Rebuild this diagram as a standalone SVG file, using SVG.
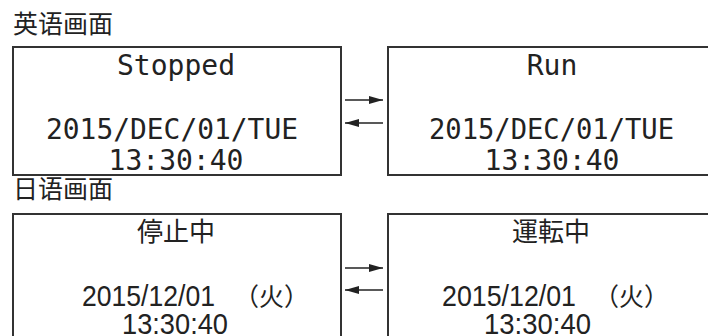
<svg xmlns="http://www.w3.org/2000/svg" width="708" height="336" viewBox="0 0 708 336">
<style>
.box{fill:#fff;stroke:#333;stroke-width:2}
.mono{font-family:"DejaVu Sans Mono","Liberation Mono",monospace;font-size:28px;fill:#222}
.cjk{font-family:"Noto Sans CJK JP","Noto Sans CJK SC",sans-serif;fill:#222}
.title{font-family:"Noto Sans CJK SC","Noto Sans CJK JP",sans-serif;font-size:25px;fill:#222}
.num{font-family:"Liberation Sans",Arial,sans-serif;font-size:30px;fill:#222}
.arr{stroke:#222;stroke-width:1.5;fill:none}
</style>
<defs>
<marker id="ah" markerUnits="userSpaceOnUse" markerWidth="14" markerHeight="8" refX="14" refY="4" orient="auto">
<path d="M0,0 L14,4 L0,8 Z" fill="#222"/>
</marker>
</defs>
<text class="title" x="13" y="33">英语画面</text>
<text class="title" x="13" y="198">日语画面</text>
<g id="en-stopped">
<rect class="box" x="13" y="47" width="328" height="128"/>
<text class="mono" x="176" y="75" text-anchor="middle">Stopped</text>
<text class="mono" x="46" y="139" textLength="252" lengthAdjust="spacingAndGlyphs">2015/DEC/01/TUE</text>
<text class="mono" x="176" y="170" text-anchor="middle">13:30:40</text>
</g>
<g id="en-run">
<rect class="box" x="388" y="47" width="328" height="128"/>
<text class="mono" x="552" y="75" text-anchor="middle">Run</text>
<text class="mono" x="429" y="139" textLength="245" lengthAdjust="spacingAndGlyphs">2015/DEC/01/TUE</text>
<text class="mono" x="552" y="170" text-anchor="middle">13:30:40</text>
</g>
<g id="jp-stopped">
<rect class="box" x="13" y="214" width="328" height="140"/>
<text class="cjk" x="176" y="241" font-size="26" text-anchor="middle">停止中</text>
<text y="306"><tspan class="num" x="82" textLength="133" lengthAdjust="spacingAndGlyphs">2015/12/01</tspan><tspan class="cjk" font-size="25" x="271.5" text-anchor="middle">（火）</tspan></text>
<text class="num" x="122" y="334" textLength="106" lengthAdjust="spacingAndGlyphs">13:30:40</text>
</g>
<g id="jp-run">
<rect class="box" x="388" y="214" width="328" height="140"/>
<text class="cjk" x="551" y="241" font-size="26" text-anchor="middle">運転中</text>
<text y="306"><tspan class="num" x="442" textLength="134" lengthAdjust="spacingAndGlyphs">2015/12/01</tspan><tspan class="cjk" font-size="25" x="631.5" text-anchor="middle">（火）</tspan></text>
<text class="num" x="484" y="334" textLength="107" lengthAdjust="spacingAndGlyphs">13:30:40</text>
</g>
<g id="connectors">
<line class="arr" x1="345" y1="100" x2="383" y2="100" marker-end="url(#ah)"/>
<line class="arr" x1="383" y1="123" x2="345" y2="123" marker-end="url(#ah)"/>
<line class="arr" x1="345" y1="268" x2="383" y2="268" marker-end="url(#ah)"/>
<line class="arr" x1="383" y1="290" x2="345" y2="290" marker-end="url(#ah)"/>
</g>
</svg>
